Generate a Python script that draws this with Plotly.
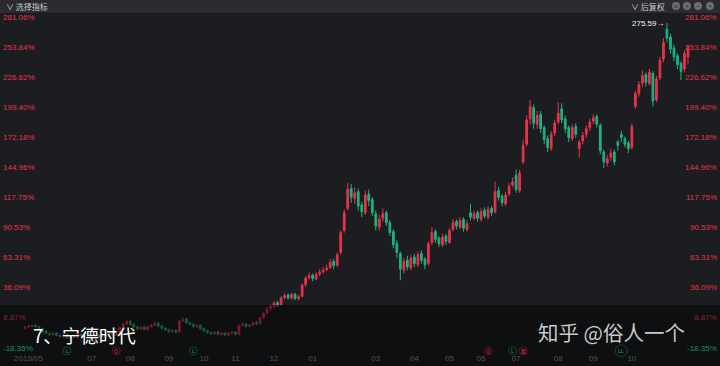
import plotly.graph_objects as go

# ---------------- data (percent change) ----------------
close = [
    0.5, 1.5, 2.0, 1.0, -1.0, -3.5, -5.0, -6.0, -5.0, -7.0,
    -8.0, -6.5, -9.0, -7.5, -8.5, -6.0, -7.0, -5.5, -8.0, -9.5,
    -7.0, -8.5, -6.0, -7.5, -5.0, -6.5, -4.0, 0.0, 3.5, 5.5,
    3.0, 0.5, -1.0, 0.5, -1.5, 1.0, 2.5, 4.0, 1.5, -0.5,
    -2.0, -3.5, -2.5, -4.0, 6.0, 7.5, 4.5, 3.0, 1.0, 2.0,
    -1.0, -3.0, -4.5, -5.5, -4.0, -6.0, -5.0, -6.5, -5.0, -4.0,
    -6.0, 2.0, 3.0, 1.0, 2.5, 4.5, 3.5, 9.0, 13.0, 17.0,
    19.0, 22.0, 20.5, 27.0, 29.0, 27.0, 30.0, 26.5, 28.0, 38.5,
    45.0, 47.0, 44.5, 48.0, 50.0, 52.0, 54.0, 59.0, 56.0, 66.0,
    86.0, 104.0, 125.0, 118.0, 122.0, 110.0, 105.0, 120.0, 115.0, 104.0,
    92.0, 98.0, 103.0, 95.0, 86.0, 75.0, 68.0, 53.0, 60.0, 55.0,
    63.0, 58.0, 66.0, 61.0, 57.0, 76.0, 86.0, 80.0, 76.0, 82.0,
    78.0, 88.0, 95.0, 92.0, 97.0, 90.0, 94.0, 100.0, 103.0, 99.0,
    105.0, 101.0, 107.0, 104.0, 123.0, 118.0, 113.0, 120.0, 128.0, 132.0,
    125.0, 140.0, 165.0, 188.0, 200.0, 185.0, 192.0, 180.0, 170.0, 163.0,
    175.0, 185.0, 194.0, 188.0, 180.0, 172.0, 181.0, 175.0, 168.0, 174.0,
    180.0, 186.0, 190.0, 184.0, 160.0, 150.0, 153.0, 158.0, 150.0, 165.0,
    172.0, 166.0, 162.0, 182.0, 212.0, 220.0, 228.0, 222.0, 231.0, 205.0,
    225.0, 242.0, 258.0, 262.0, 252.0, 245.0, 238.0, 232.0, 248.0, 254.0,
]
open_ = [
    -0.5, 0.8, 1.2, 2.2, 0.8, -0.8, -3.0, -5.2, -6.3, -4.8,
    -6.8, -8.2, -6.2, -9.2, -7.2, -8.7, -5.8, -7.3, -5.3, -7.8,
    -9.8, -6.8, -8.8, -5.8, -7.8, -4.8, -6.8, -4.2, 0.2, 3.2,
    5.8, 3.2, 0.8, -1.2, 0.8, -1.8, 0.8, 2.2, 4.3, 1.8,
    -0.2, -1.8, -3.8, -2.2, -3.8, 6.2, 8.0, 4.8, 3.2, 0.8,
    2.3, -0.8, -2.7, -4.3, -5.7, -3.8, -6.2, -4.8, -6.7, -5.2,
    -3.8, -5.8, 2.2, 3.3, 1.2, 2.3, 4.8, 3.7, 9.3, 13.2,
    17.5, 18.8, 22.5, 20.8, 27.3, 29.5, 26.8, 30.3, 26.3, 28.5,
    39.0, 45.5, 47.5, 44.0, 48.5, 50.5, 52.5, 54.5, 60.0, 56.5,
    68.0, 88.0, 108.0, 126.0, 117.0, 123.0, 111.0, 104.0, 121.0, 116.0,
    103.0, 91.0, 99.0, 104.0, 95.0, 87.0, 76.0, 67.0, 52.0, 61.0,
    54.0, 64.0, 57.0, 67.0, 62.0, 58.0, 77.0, 87.0, 81.0, 75.0,
    83.0, 77.0, 89.0, 96.0, 91.0, 98.0, 89.0, 104.0, 99.0, 104.0,
    98.0, 106.0, 100.0, 108.0, 105.0, 124.0, 119.0, 112.0, 121.0, 129.0,
    138.0, 124.0, 150.0, 166.0, 189.0, 199.0, 184.0, 193.0, 181.0, 171.0,
    162.0, 176.0, 186.0, 198.0, 189.0, 181.0, 171.0, 182.0, 162.0, 169.0,
    175.0, 181.0, 187.0, 191.0, 183.0, 159.0, 149.0, 154.0, 159.0, 168.0,
    175.0, 171.0, 167.0, 163.0, 200.0, 212.0, 221.0, 229.0, 221.0, 230.0,
    206.0, 226.0, 243.0, 270.0, 263.0, 253.0, 246.0, 239.0, 234.0, 245.0,
]
high = [
    1.5, 2.8, 3.0, 3.0, 1.5, 0.0, -2.0, -4.5, -4.0, -4.0,
    -5.8, -5.5, -5.5, -6.5, -6.0, -5.0, -4.8, -4.5, -4.5, -7.0,
    -6.0, -6.0, -5.0, -4.8, -4.0, -3.8, -3.0, 1.0, 4.5, 7.0,
    7.0, 4.0, 1.8, 1.5, 1.8, 2.0, 3.5, 5.5, 5.0, 2.5,
    0.5, -1.0, -1.5, -1.5, 7.0, 9.5, 8.5, 5.5, 4.0, 3.0,
    3.0, 0.0, -2.0, -3.5, -3.0, -3.0, -4.0, -4.0, -4.0, -3.0,
    -3.0, 3.0, 4.5, 4.0, 3.5, 5.5, 6.0, 10.0, 14.5, 18.5,
    21.0, 24.0, 24.5, 28.5, 31.0, 31.0, 31.5, 31.5, 30.0, 40.0,
    47.0, 50.0, 49.0, 50.0, 53.0, 55.0, 57.0, 62.0, 62.0, 68.0,
    88.0, 107.0, 131.0, 130.0, 127.0, 126.0, 114.0, 124.0, 125.0, 118.0,
    106.0, 102.0, 108.0, 106.0, 97.0, 89.0, 79.0, 69.0, 63.0, 65.0,
    66.0, 67.0, 69.0, 70.0, 64.0, 78.0, 91.0, 89.0, 83.0, 85.0,
    85.0, 90.0, 98.0, 98.0, 100.0, 100.0, 97.0, 112.0, 106.0, 106.0,
    108.0, 109.0, 110.0, 110.0, 132.0, 127.0, 121.0, 123.0, 131.0, 136.0,
    143.0, 143.0, 170.0, 192.0, 206.0, 202.0, 196.0, 196.0, 183.0, 174.0,
    178.0, 188.0, 204.0, 203.0, 192.0, 183.0, 184.0, 185.0, 170.0, 177.0,
    183.0, 189.0, 193.0, 193.0, 185.0, 161.0, 156.0, 162.0, 161.0, 170.0,
    178.0, 173.0, 169.0, 185.0, 214.0, 223.0, 233.0, 231.0, 234.0, 232.0,
    228.0, 245.0, 262.0, 275.59, 266.0, 256.0, 248.0, 241.0, 251.0, 256.0,
]
low = [
    -1.5, 0.0, 0.5, 0.2, -2.0, -4.5, -6.0, -7.5, -7.0, -8.0,
    -9.2, -9.0, -10.5, -10.0, -9.5, -9.5, -8.0, -8.0, -9.0, -11.0,
    -10.5, -9.5, -9.5, -8.5, -8.5, -7.5, -7.5, -5.0, -0.5, 2.5,
    2.0, -0.5, -2.0, -2.0, -2.5, -2.5, 0.0, 1.5, 0.5, -1.5,
    -3.0, -4.5, -4.5, -5.0, -4.5, 5.0, 3.5, 2.0, 0.0, 0.0,
    -2.0, -4.0, -5.5, -6.5, -6.5, -7.0, -7.0, -7.5, -7.5, -6.0,
    -7.0, -6.5, 1.0, 0.0, 0.5, 1.5, 2.5, 3.0, 8.0, 12.0,
    15.5, 17.5, 18.5, 20.0, 25.5, 25.5, 25.5, 25.0, 24.5, 27.5,
    37.0, 43.5, 42.0, 43.0, 46.5, 49.0, 51.0, 53.0, 53.0, 55.0,
    66.0, 86.0, 106.0, 113.0, 112.0, 106.0, 100.0, 102.0, 110.0, 101.0,
    88.0, 88.0, 96.0, 92.0, 83.0, 72.0, 63.0, 43.0, 49.0, 52.0,
    52.0, 55.0, 55.0, 58.0, 53.0, 56.0, 75.0, 77.0, 73.0, 73.0,
    75.0, 76.0, 87.0, 89.0, 89.0, 87.0, 87.0, 97.0, 97.0, 96.0,
    96.0, 99.0, 98.0, 101.0, 103.0, 115.0, 110.0, 110.0, 119.0, 127.0,
    122.0, 122.0, 148.0, 164.0, 184.0, 180.0, 180.0, 176.0, 166.0, 159.0,
    160.0, 173.0, 184.0, 185.0, 176.0, 168.0, 169.0, 172.0, 154.0, 166.0,
    172.0, 178.0, 184.0, 181.0, 157.0, 144.5, 146.0, 151.0, 147.0, 160.0,
    168.0, 163.0, 158.0, 161.0, 198.0, 209.0, 218.0, 218.0, 219.0, 200.0,
    204.0, 224.0, 240.0, 258.0, 248.0, 241.0, 234.0, 224.0, 231.0, 238.0,
]
idx = list(range(len(close)))

month_idx = [1, 19, 30, 41, 51, 60, 71, 82, 100, 111, 121, 130, 140, 152, 162, 173]
month_labels = ["2019/05", "07", "08", "09", "10", "11", "12", "01",
                "03", "04", "05", "06", "07", "08", "09", "10"]

y_ticks = [-18.35, 8.87, 36.09, 63.31, 90.53, 117.75, 144.96,
           172.18, 199.40, 226.62, 253.84, 281.06]

event_idx = [12, 26, 48, 132, 139, 142, 170]
event_text = ["L", "Q", "L", "Q", "L", "股", "LL"]
event_up = [False, True, False, True, False, True, False]
event_y = -21.0

peak_value = 275.59
caption = "7、宁德时代"
watermark = "知乎 @俗人一个"

# ---------------- style ----------------
RED = "#e8334a"
GREEN = "#1db381"
RED_DIM = "#8c2232"
GREEN_DIM = "#17946a"
BG = "#1c1d21"
W, H, B = 720, 366, 14
PH = H - B  # plot height in px
BAND_TOP = 305

def xp(px):
    return px / W

def yp(py):
    return 1 - py / PH

# y range from the tick pixel positions (281.06 at 17px, -18.35 at 348px)
per_px = (y_ticks[-1] - y_ticks[0]) / (348 - 17)
y_top = y_ticks[-1] + 17 * per_px
y_bot = y_ticks[0] - (PH - 348) * per_px
# x range from candle pixel positions (first at 25px, last at 688px)
per_cx = (len(close) - 1) / (688 - 25)
x_lo = -25 * per_cx
x_hi = x_lo + W * per_cx

fig = go.Figure()
fig.add_trace(go.Candlestick(
    x=idx, open=open_, high=high, low=low, close=close,
    increasing=dict(line=dict(color=RED, width=1), fillcolor=RED),
    decreasing=dict(line=dict(color=GREEN, width=1), fillcolor=GREEN),
    whiskerwidth=0, hoverinfo="skip", showlegend=False,
))
# event icons
ev_col = [RED if u else GREEN for u in event_up]
fig.add_trace(go.Scatter(
    x=event_idx, y=[event_y] * len(event_idx), mode="markers", cliponaxis=False,
    marker=dict(size=[8 if len(t) == 1 else 12 for t in event_text], symbol="circle",
                color="rgba(0,0,0,0)", line=dict(width=1, color=ev_col)),
    hoverinfo="skip", showlegend=False,
))

shapes = [
    # header bar
    dict(type="rect", xref="paper", yref="paper", x0=0, x1=1, y0=yp(12), y1=yp(-2),
         fillcolor="#2a2b30", line=dict(width=0), layer="above"),
    dict(type="line", xref="paper", yref="paper", x0=0, x1=1, y0=yp(12), y1=yp(12),
         line=dict(color="#34353a", width=1), layer="above"),
    # bottom dark band
    dict(type="rect", xref="paper", yref="paper", x0=0, x1=1, y0=yp(BAND_TOP), y1=yp(H + 2),
         fillcolor="rgba(0,0,0,0.48)", line=dict(width=0), layer="above"),
]
for cx in [676, 687, 698, 710]:
    shapes.append(dict(type="circle", xref="paper", yref="paper",
                       x0=xp(cx - 4), x1=xp(cx + 4), y0=yp(10), y1=yp(2),
                       fillcolor="#6c6d72", line=dict(width=0), layer="above"))

lab_font = "Liberation Sans, Arial, sans-serif"
annotations = []
# y-axis labels on both sides
for v in y_ticks:
    py = 17 + (y_ticks[-1] - v) / per_px
    in_band = py > BAND_TOP
    if v > 0:
        c = RED_DIM if in_band else RED
    else:
        c = GREEN_DIM if in_band else GREEN
    for side, xa in (("left", 0.002), ("right", 0.998)):
        annotations.append(dict(text=f"{v:.2f}%", xref="paper", yref="y", x=xa, y=v,
                                xanchor=side, yanchor="middle", showarrow=False,
                                font=dict(family=lab_font, size=8, color=c)))
# event letters
for ex, et, ec in zip(event_idx, event_text, ev_col):
    annotations.append(dict(text=et, x=ex, y=event_y, xref="x", yref="y",
                            xanchor="center", yanchor="middle", showarrow=False,
                            font=dict(family="Noto Sans CJK SC", size=5, color=ec)))
annotations += [
    dict(text="∨ 选择指标", xref="paper", yref="paper", x=xp(4), y=yp(6),
         xanchor="left", yanchor="middle", showarrow=False,
         font=dict(family="Noto Sans CJK SC", size=8, color="#c9c9c9")),
    dict(text="∨ 后复权", xref="paper", yref="paper", x=xp(667), y=yp(6),
         xanchor="right", yanchor="middle", showarrow=False,
         font=dict(family="Noto Sans CJK SC", size=8, color="#c9c9c9")),
    dict(text=f"{peak_value:.2f}→", x=idx[high.index(max(high))], y=peak_value,
         xref="x", yref="y", xanchor="right", yanchor="middle", xshift=-1,
         showarrow=False, font=dict(family=lab_font, size=8, color="#f0f0f0")),
    dict(text=caption, xref="paper", yref="paper", x=xp(31), y=yp(335),
         xanchor="left", yanchor="middle", showarrow=False,
         font=dict(family="Noto Sans CJK SC", size=18.5, color="#ffffff")),
    dict(text=watermark, xref="paper", yref="paper", x=xp(687), y=yp(332),
         xanchor="right", yanchor="middle", showarrow=False,
         font=dict(family="Noto Sans CJK SC", size=20.5, color="rgba(220,220,220,0.92)")),
]
for i, cx in enumerate([676, 687, 698, 710]):
    annotations.append(dict(text=["≡", "+", "−", "•"][i], xref="paper", yref="paper",
                            x=xp(cx), y=yp(6), xanchor="center", yanchor="middle",
                            showarrow=False, font=dict(size=7, color="#2a2b30")))

fig.update_layout(
    width=W, height=H, margin=dict(l=0, r=0, t=0, b=B),
    paper_bgcolor=BG, plot_bgcolor=BG,
    xaxis=dict(range=[x_lo, x_hi], rangeslider=dict(visible=False), showgrid=False,
               zeroline=False, showline=False, ticks="", tickvals=month_idx,
               ticktext=month_labels, tickangle=0,
               tickfont=dict(family=lab_font, size=8, color="#9a9a9a")),
    yaxis=dict(range=[y_bot, y_top], showgrid=False, zeroline=False, showline=False,
               showticklabels=False, ticks=""),
    shapes=shapes, annotations=annotations, hovermode=False,
)

fig.write_html("out.html")
